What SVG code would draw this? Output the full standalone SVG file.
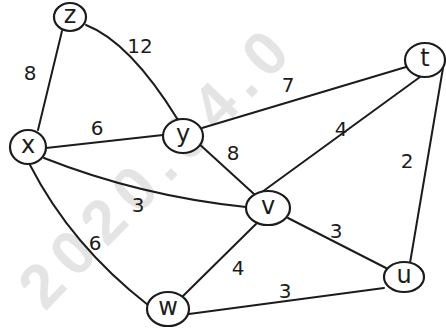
<svg xmlns="http://www.w3.org/2000/svg" width="446" height="329" viewBox="0 0 446 329">
<style>
.e{fill:none;stroke:#1c1c1c;stroke-width:2;stroke-linecap:round}
.n{fill:#fff;stroke:#1c1c1c;stroke-width:2.2}
.nl{font-family:"DejaVu Sans","Liberation Sans",sans-serif;font-size:24px;fill:#1c1c1c;text-anchor:middle;dominant-baseline:central}
.el{font-family:"DejaVu Sans","Liberation Sans",sans-serif;font-size:20px;fill:#1c1c1c;text-anchor:middle;dominant-baseline:central}
.wm{font-family:"Liberation Sans",sans-serif;font-weight:bold;font-size:62px;letter-spacing:10px;fill:#e4e4e4}
</style>
<rect width="446" height="329" fill="#fff"/>
<text class="wm" transform="translate(45,312) rotate(-46)">2020.04.0</text>
<g id="connectors">
<line class="e" x1="62" y1="31" x2="38" y2="130"/>
<path class="e" d="M86,25 Q130,42 178,120"/>
<line class="e" x1="46" y1="148" x2="163" y2="135"/>
<path class="e" d="M44,158 Q140,196 246,207"/>
<path class="e" d="M30,165 Q71,245 148,305"/>
<line class="e" x1="202" y1="128" x2="406" y2="67"/>
<line class="e" x1="197" y1="142" x2="254" y2="194"/>
<line class="e" x1="420" y1="77" x2="262" y2="192"/>
<line class="e" x1="443" y1="68" x2="410" y2="263"/>
<line class="e" x1="288" y1="218" x2="386" y2="268"/>
<line class="e" x1="257" y1="223" x2="183" y2="296"/>
<line class="e" x1="189" y1="314" x2="384" y2="288"/>
<text class="el" x="30" y="73">8</text>
<text class="el" x="140" y="46">12</text>
<text class="el" x="97" y="128">6</text>
<text class="el" x="288" y="85">7</text>
<text class="el" x="341" y="129">4</text>
<text class="el" x="407" y="161">2</text>
<text class="el" x="233" y="153">8</text>
<text class="el" x="138" y="205">3</text>
<text class="el" x="95" y="243">6</text>
<text class="el" x="336" y="231">3</text>
<text class="el" x="238" y="268">4</text>
<text class="el" x="285" y="291">3</text>
</g>
<g id="node-z"><ellipse class="n" cx="70" cy="17" rx="16" ry="14"/><text class="nl" x="70" y="15">z</text></g>
<g id="node-x"><ellipse class="n" cx="28" cy="147" rx="18" ry="17"/><text class="nl" x="28" y="145">x</text></g>
<g id="node-y"><ellipse class="n" cx="183" cy="136" rx="20" ry="17"/><text class="nl" x="183" y="134">y</text></g>
<g id="node-t"><ellipse class="n" cx="425" cy="60" rx="20" ry="17"/><text class="nl" x="425" y="58">t</text></g>
<g id="node-v"><ellipse class="n" cx="268" cy="208" rx="22" ry="17"/><text class="nl" x="268" y="206">v</text></g>
<g id="node-u"><ellipse class="n" cx="404" cy="277" rx="20" ry="15"/><text class="nl" x="404" y="275">u</text></g>
<g id="node-w"><ellipse class="n" cx="168" cy="309" rx="21" ry="17"/><text class="nl" x="168" y="307">w</text></g>
</svg>
